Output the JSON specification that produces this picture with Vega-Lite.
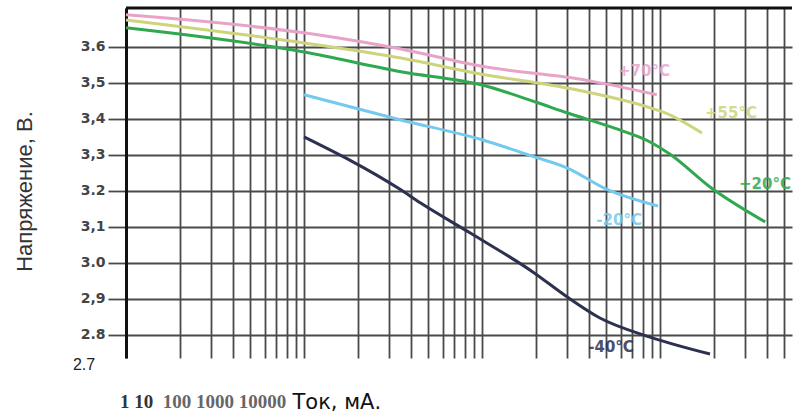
{
  "$schema": "https://vega.github.io/schema/vega-lite/v6.json",
  "width": 666,
  "height": 350,
  "autosize": {"type": "none"},
  "padding": {"left": 126, "top": 8, "right": 12, "bottom": 60},
  "background": "white",
  "config": {"view": {"stroke": null}},
  "datasets": {
    "curves": [
      {"series": "+70°C", "current": 1, "voltage": 3.689},
      {"series": "+70°C", "current": 10, "voltage": 3.639},
      {"series": "+70°C", "current": 35, "voltage": 3.594},
      {"series": "+70°C", "current": 100, "voltage": 3.546},
      {"series": "+70°C", "current": 390, "voltage": 3.507},
      {"series": "+70°C", "current": 600, "voltage": 3.489},
      {"series": "+70°C", "current": 960, "voltage": 3.467},
      {"series": "+55°C", "current": 1, "voltage": 3.675},
      {"series": "+55°C", "current": 10, "voltage": 3.611},
      {"series": "+55°C", "current": 35, "voltage": 3.569},
      {"series": "+55°C", "current": 100, "voltage": 3.524},
      {"series": "+55°C", "current": 300, "voltage": 3.486},
      {"series": "+55°C", "current": 880, "voltage": 3.431},
      {"series": "+55°C", "current": 1070, "voltage": 3.417},
      {"series": "+55°C", "current": 1720, "voltage": 3.361},
      {"series": "+20°C", "current": 1, "voltage": 3.653},
      {"series": "+20°C", "current": 10, "voltage": 3.586},
      {"series": "+20°C", "current": 35, "voltage": 3.531},
      {"series": "+20°C", "current": 100, "voltage": 3.494},
      {"series": "+20°C", "current": 200, "voltage": 3.447},
      {"series": "+20°C", "current": 300, "voltage": 3.417},
      {"series": "+20°C", "current": 550, "voltage": 3.375},
      {"series": "+20°C", "current": 880, "voltage": 3.336},
      {"series": "+20°C", "current": 1140, "voltage": 3.302},
      {"series": "+20°C", "current": 1910, "voltage": 3.211},
      {"series": "+20°C", "current": 3900, "voltage": 3.114},
      {"series": "-20°C", "current": 10, "voltage": 3.467},
      {"series": "-20°C", "current": 35, "voltage": 3.397},
      {"series": "-20°C", "current": 100, "voltage": 3.342},
      {"series": "-20°C", "current": 193, "voltage": 3.296},
      {"series": "-20°C", "current": 300, "voltage": 3.264},
      {"series": "-20°C", "current": 500, "voltage": 3.205},
      {"series": "-20°C", "current": 975, "voltage": 3.158},
      {"series": "-40°C", "current": 10, "voltage": 3.35},
      {"series": "-40°C", "current": 35, "voltage": 3.203},
      {"series": "-40°C", "current": 45, "voltage": 3.167},
      {"series": "-40°C", "current": 86, "voltage": 3.083},
      {"series": "-40°C", "current": 193, "voltage": 2.975},
      {"series": "-40°C", "current": 300, "voltage": 2.906},
      {"series": "-40°C", "current": 460, "voltage": 2.847},
      {"series": "-40°C", "current": 880, "voltage": 2.794},
      {"series": "-40°C", "current": 1910, "voltage": 2.747}
    ],
    "labels": [
      {"series": "+70°C", "current": 813, "voltage": 3.533, "text": "+70°C"},
      {"series": "+55°C", "current": 2506, "voltage": 3.417, "text": "+55°C"},
      {"series": "+20°C", "current": 3890, "voltage": 3.219, "text": "+20°C"},
      {"series": "-20°C", "current": 589, "voltage": 3.119, "text": "-20°C"},
      {"series": "-40°C", "current": 531, "voltage": 2.767, "text": "-40°C"}
    ]
  },
  "layer": [
    {
      "data": {"name": "curves"},
      "mark": {"type": "line", "strokeWidth": 3, "interpolate": "monotone"},
      "encoding": {
        "x": {
          "field": "current", "type": "quantitative",
          "scale": {"type": "log", "domain": [1, 5516], "nice": false},
          "axis": {
            "values": [1,2,3,4,5,6,7,8,9,10,20,30,40,50,60,70,80,90,100,200,300,400,500,600,700,800,900,1000,2000,3000,4000,5000],
            "grid": true, "gridColor": "#4a4a4a", "gridWidth": 1.8, "gridOpacity": 1,
            "labels": false, "ticks": false, "domain": false,
            "title": "Ток, мА.",
            "titleFont": "DejaVu Sans", "titleFontSize": 21, "titleFontWeight": "normal", "titleColor": "#111",
            "titleAlign": "left", "titleAnchor": "start", "titleBaseline": "middle",
            "titleX": 166, "titleY": 44
          }
        },
        "y": {
          "field": "voltage", "type": "quantitative",
          "scale": {"domain": [2.736, 3.708], "nice": false, "zero": false},
          "axis": {
            "values": [2.8, 2.9, 3.0, 3.1, 3.2, 3.3, 3.4, 3.5, 3.6],
            "labelExpr": "indexof(['3.5','3.4','3.3','3.1','2.9'], format(datum.value,'.1f')) >= 0 ? replace(format(datum.value,'.1f'),'.',',') : format(datum.value,'.1f')",
            "grid": true, "gridColor": "#4a4a4a", "gridWidth": 1.8, "gridOpacity": 1,
            "ticks": true, "tickSize": 18, "tickColor": "#4a4a4a", "tickWidth": 1.8,
            "domain": true, "domainColor": "#111", "domainWidth": 3,
            "labelFont": "DejaVu Sans", "labelFontWeight": "bold", "labelFontSize": 14, "labelColor": "#444", "labelPadding": 3,
            "title": "Напряжение, В.",
            "titleFont": "Liberation Sans", "titleFontSize": 22, "titleFontWeight": "normal", "titleColor": "#333",
            "titleAngle": -90, "titleAlign": "center", "titleBaseline": "middle",
            "titleX": -102, "titleY": 183
          }
        },
        "color": {
          "field": "series", "type": "nominal",
          "scale": {
            "domain": ["+70°C", "+55°C", "+20°C", "-20°C", "-40°C"],
            "range": ["#e9a3c9", "#cdd47c", "#2fa84f", "#74c9ee", "#2d3150"]
          },
          "legend": null
        },
        "detail": {"field": "series"}
      }
    },
    {
      "data": {"name": "labels"},
      "mark": {"type": "text", "font": "DejaVu Sans", "fontWeight": "bold", "fontSize": 15, "align": "center", "baseline": "middle", "opacity": 0.85},
      "encoding": {
        "x": {"field": "current", "type": "quantitative"},
        "y": {"field": "voltage", "type": "quantitative"},
        "text": {"field": "text"},
        "color": {"field": "series", "type": "nominal", "legend": null}
      }
    },
    {
      "data": {"values": [{}]},
      "mark": {"type": "rule", "color": "#111", "strokeWidth": 3},
      "encoding": {"y": {"datum": 3.708}}
    },
    {
      "data": {"values": [{}]},
      "mark": {"type": "text", "text": "2.7", "font": "Liberation Sans", "fontSize": 16, "color": "#222", "align": "center", "baseline": "middle", "dy": -6},
      "encoding": {"x": {"datum": 0.581}, "y": {"datum": 2.7}}
    },
    {
      "data": {"values": [{}]},
      "mark": {"type": "text", "text": "1 10", "font": "Liberation Serif", "fontWeight": "bold", "fontSize": 19, "color": "#333", "align": "left", "baseline": "middle"},
      "encoding": {"x": {"datum": 0.925}, "y": {"datum": 2.614}}
    },
    {
      "data": {"values": [{}]},
      "mark": {"type": "text", "text": "100 1000 10000", "font": "Liberation Serif", "fontWeight": "bold", "fontSize": 19, "color": "#666", "align": "left", "baseline": "middle"},
      "encoding": {"x": {"datum": 1.61}, "y": {"datum": 2.614}}
    }
  ]
}
